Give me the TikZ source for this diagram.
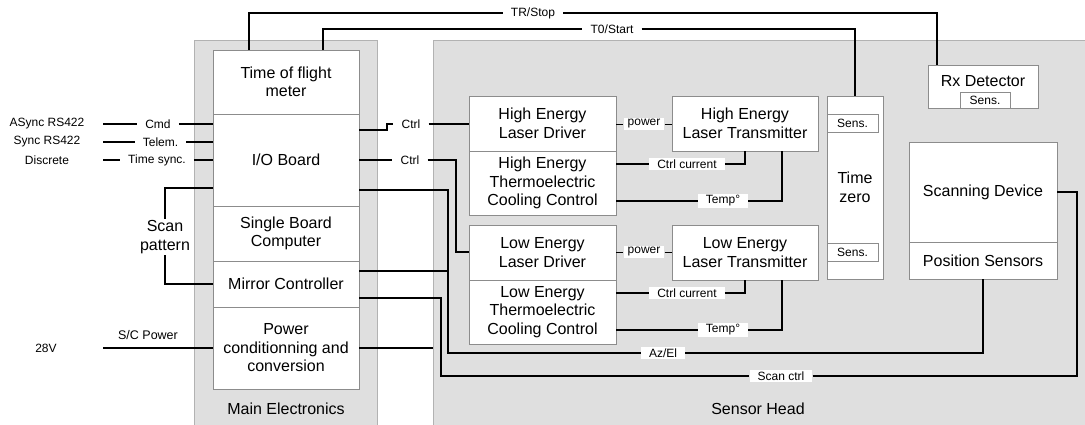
\documentclass[tikz,border=0pt]{standalone}
\usepackage{fontspec}
\setmainfont{Liberation Sans}
\newcommand{\boxfnt}{\fontsize{16}{18.5}\selectfont}
\newcommand{\lblfnt}{\fontsize{12}{14}\selectfont}

\begin{document}
\begin{tikzpicture}[x=1pt, y=-1pt,
  panel/.style={draw=black!30, fill=gray!25, line width=0.8pt},
  blk/.style={draw=black!45, fill=white, line width=0.8pt, align=center, font=\boxfnt, inner sep=0pt},
  sens/.style={blk, font=\lblfnt},
  wire/.style={line width=2pt},
  thinwire/.style={line width=1pt},
  lbl/.style={fill=white, font=\lblfnt, inner xsep=8pt, inner ysep=1.5pt},
  txt/.style={font=\lblfnt},
  bigtxt/.style={font=\boxfnt, align=center}]
  \useasboundingbox (0,0) rectangle (1085,424);
  \node[panel, minimum width=183pt, minimum height=392pt] (mepanel) at (285.5,236) {};
  \node[panel, minimum width=660pt, minimum height=392pt] (shpanel) at (763,236) {};
  \node[bigtxt] (melbl) at (286,409) {Main Electronics};
  \node[bigtxt] (shlbl) at (758,409) {Sensor Head};
  \node[blk, minimum width=146pt, minimum height=64pt] (tof) at (286,82) {Time of flight\\meter};
  \node[blk, minimum width=146pt, minimum height=92pt] (io) at (286,160) {I/O Board};
  \node[blk, minimum width=146pt, minimum height=55pt] (sbc) at (286,233.5) {Single Board\\Computer};
  \node[blk, minimum width=146pt, minimum height=46pt] (mirror) at (286,284) {Mirror Controller};
  \node[blk, minimum width=146pt, minimum height=82pt] (pwr) at (286,348) {Power\\conditionning and\\conversion};
  \node[blk, minimum width=147pt, minimum height=55pt] (hedrv) at (542.5,123.5) {High Energy\\Laser Driver};
  \node[blk, minimum width=147pt, minimum height=64pt] (hetec) at (542.5,183) {High Energy\\Thermoelectric\\Cooling Control};
  \node[blk, minimum width=147pt, minimum height=55pt] (ledrv) at (542.5,252.5) {Low Energy\\Laser Driver};
  \node[blk, minimum width=147pt, minimum height=64pt] (letec) at (542.5,312) {Low Energy\\Thermoelectric\\Cooling Control};
  \node[blk, minimum width=146pt, minimum height=55pt] (hetx) at (745,123.5) {High Energy\\Laser Transmitter};
  \node[blk, minimum width=146pt, minimum height=55pt] (letx) at (745,252.5) {Low Energy\\Laser Transmitter};
  \node[blk, minimum width=56pt, minimum height=183pt] (tzero) at (855,187.5) {Time\\zero};
  \node[sens, minimum width=51pt, minimum height=18pt] (tzsa) at (852.5,123) {Sens.};
  \node[sens, minimum width=51pt, minimum height=18pt] (tzsb) at (852.5,252) {Sens.};
  \node[blk, minimum width=110pt, minimum height=43pt] (rx) at (983,86.5) {};
  \node[bigtxt] (rxlbl) at (983,81) {Rx Detector};
  \node[sens, minimum width=50pt, minimum height=16pt] (rxs) at (985,100) {Sens.};
  \node[blk, minimum width=148pt, minimum height=100pt] (scan) at (983,192) {Scanning Device};
  \node[blk, minimum width=148pt, minimum height=37pt] (possens) at (983,260.5) {Position Sensors};

  \node[txt] (async) at (47,124) {ASync RS422};
  \node[txt] (sync) at (47,142) {Sync RS422};
  \node[txt] (discrete) at (47,160) {Discrete};
  \node[txt] (v28) at (46,348) {28V};
  \node[txt, font=\fontsize{12.5}{14}\selectfont] (scpow) at (148,335) {S/C Power};
  \coordinate (inl) at (103,0);
  \coordinate (jaz) at (448,353);
  \coordinate (jsc) at (441,376);
  \node[lbl] (cmd) at (158,124) {Cmd};
  \node[lbl] (telem) at (160.5,142) {Telem.};
  \node[lbl] (tsync) at (157,160) {Time sync.};
  \node[lbl, font=\boxfnt, align=center, inner xsep=3pt] (scanpat) at (165,237) {Scan\\pattern};
  \node[lbl] (trstop) at (533,13) {TR/Stop};
  \node[lbl] (tzstart) at (612,29) {T0/Start};
  \node[lbl] (ctrla) at (411,124) {Ctrl};
  \node[lbl] (ctrlb) at (410,160) {Ctrl};
  \node[lbl, inner xsep=4pt] (hepow) at (644,124) {power};
  \node[lbl, inner xsep=4pt] (lepow) at (644,252) {power};
  \node[lbl] (hecur) at (687,164) {Ctrl current};
  \node[lbl] (hetemp) at (723,201) {Temp°};
  \node[lbl] (lecur) at (687,293) {Ctrl current};
  \node[lbl] (letemp) at (723,330) {Temp°};
  \node[lbl] (azel) at (663,353) {Az/El};
  \node[lbl] (scanctrl) at (781,376) {Scan ctrl};

  \draw[wire] ([xshift=36pt]tof.north west) |- (trstop) -| ([xshift=9pt]rx.north west);
  \draw[wire] ([xshift=110pt]tof.north west) |- (tzstart) -| (tzero.north);
  \draw[wire] (inl |- cmd) -- (cmd) -- (io.west |- cmd);
  \draw[wire] (inl |- telem) -- (telem) -- (io.west |- telem);
  \draw[wire] (inl |- tsync) -- (tsync) -- (io.west |- tsync);
  \draw[wire] ([yshift=-28pt]io.west) -| (scanpat) |- (mirror.west);
  \draw[wire] (inl |- pwr.west) -- (pwr.west);
  \draw[wire] ([yshift=30pt]io.east) -- ++(28,0) |- (ctrla) -- (hedrv.west |- ctrla);
  \draw[wire] (io.east) -- (ctrlb) -| ([xshift=-13pt]ledrv.west |- lepow) -- (ledrv.west |- lepow);
  \draw[wire] ([yshift=-30pt]io.east) -| (jaz) -- (azel) -| (possens.south);
  \draw[wire] ([yshift=13pt]mirror.east) -| (jaz);
  \draw[wire] ([yshift=-14pt]mirror.east) -| (jsc) -- (scanctrl) -| ([xshift=20pt]scan.east) -- (scan.east);
  \draw[wire] (pwr.east) -- (pwr.east -| shpanel.west);
  \draw[thinwire] (hedrv.east |- hepow) -- (hepow) -- (hetx.west |- hepow);
  \draw[thinwire] (ledrv.east |- lepow) -- (lepow) -- (letx.west |- lepow);
  \draw[wire] ([yshift=19pt]hetec.east) -- (hecur) -| (hetx.south);
  \draw[wire] ([yshift=-18pt]hetec.east) -- (hetemp) -| ([xshift=37pt]hetx.south);
  \draw[wire] ([yshift=19pt]letec.east) -- (lecur) -| (letx.south);
  \draw[wire] ([yshift=-18pt]letec.east) -- (letemp) -| ([xshift=37pt]letx.south);
\end{tikzpicture}
\end{document}
